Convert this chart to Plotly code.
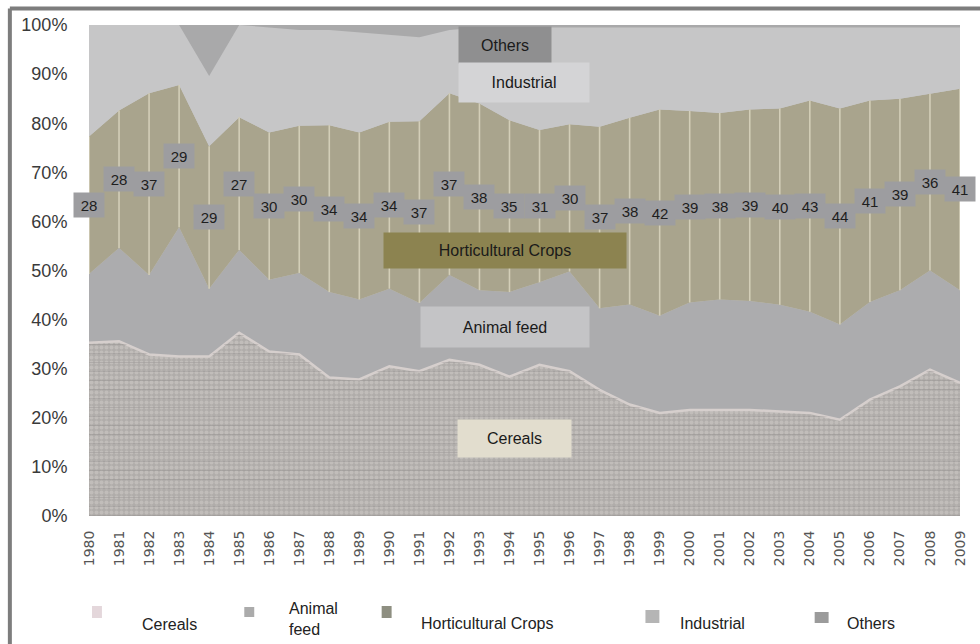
import numpy as np
import plotly.graph_objects as go

# Share of cropland use by category (% of total), 1980-2009
years = list(range(1980, 2010))
cereals = [35.3, 35.6, 32.9, 32.5, 32.5, 37.3, 33.5, 32.9, 28.2, 27.8,
           30.5, 29.5, 31.8, 30.8, 28.4, 30.8, 29.5, 25.7, 22.7, 21.0,
           21.6, 21.6, 21.6, 21.3, 21.0, 19.6, 23.7, 26.4, 29.8, 27.1]
animal_feed = [14.0, 19.0, 16.2, 26.3, 13.8, 16.9, 14.6, 16.6, 17.4, 16.3,
               15.8, 13.9, 17.3, 15.2, 17.2, 16.8, 20.3, 16.6, 20.4, 19.8,
               21.9, 22.5, 22.2, 21.7, 20.6, 19.4, 19.9, 19.6, 20.2, 18.9]
horticultural = [28, 28, 37, 29, 29, 27, 30, 30, 34, 34,
                 34, 37, 37, 38, 35, 31, 30, 37, 38, 42,
                 39, 38, 39, 40, 43, 44, 41, 39, 36, 41]
industrial = [22.7, 17.4, 13.9, 12.2, 14.3, 18.8, 21.4, 19.5, 19.4, 20.4,
              17.7, 17.1, 12.9, 15.5, 18.9, 20.9, 19.7, 20.2, 18.4, 16.7,
              17.0, 17.4, 16.7, 16.5, 14.9, 16.5, 14.9, 14.5, 13.5, 12.5]
others = [0, 0, 0, 0, 10.4, 0, 0.5, 1, 1, 1.5,
          2, 2.5, 1, 0.5, 0.5, 0.5, 0.5, 0.5, 0.5, 0.5,
          0.5, 0.5, 0.5, 0.5, 0.5, 0.5, 0.5, 0.5, 0.5, 0.5]

y_ticks = [0, 10, 20, 30, 40, 50, 60, 70, 80, 90, 100]
y_tick_text = [f"{v}%" for v in y_ticks]

series = [
    ("Cereals", cereals, "#b3afac"),
    ("Animal feed", animal_feed, "#acacae"),
    ("Horticultural Crops", horticultural, "#a9a48d"),
    ("Industrial", industrial, "#c6c6c7"),
    ("Others", others, "#a9a9aa"),
]

W, H = 980, 644
L, R, T, B = 89, 16, 25, 128
PW, PH = W - L - R, H - T - B


def paper(px, py):
    """Convert a pixel position on the page to paper coordinates."""
    return (px - L) / PW, (H - B - py) / PH


fig = go.Figure()

for name, vals, color in series:
    kw = dict(x=years, y=vals, name=name, mode="lines", stackgroup="one",
              line=dict(width=0, color=color), fillcolor=color,
              hovertemplate="%{x}: %{y:.1f}%<extra>" + name + "</extra>")
    if name == "Cereals":
        kw["line"] = dict(width=2.5, color="#d6cfcd")
        kw["fillpattern"] = dict(shape=".", bgcolor="#b0acaa", fgcolor="#d2cdca",
                                 size=5, solidity=0.5)
    fig.add_trace(go.Scatter(**kw))

# faint horizontal grain over the cereals layer
fig.add_trace(go.Scatter(x=years, y=cereals, mode="lines", fill="tozeroy", showlegend=False,
                         hoverinfo="skip", line=dict(width=0, color="rgba(0,0,0,0)"),
                         fillpattern=dict(shape="-", fgcolor="rgba(128,124,122,0.55)",
                                          bgcolor="rgba(0,0,0,0)", size=9, solidity=0.12)))

# light column separators inside the horticultural band
base = np.array(cereals) + np.array(animal_feed)
top = base + np.array(horticultural)
sx, sy = [], []
for yr, b0, b1 in zip(years, base, top):
    sx += [yr, yr, None]
    sy += [b0, b1, None]
fig.add_trace(go.Scatter(x=sx, y=sy, mode="lines", showlegend=False, hoverinfo="skip",
                         line=dict(color="#d3ceb8", width=1.6)))

annotations = []
# horticultural share labels at the middle of the band
for yr, b0, h in zip(years, base, horticultural):
    annotations.append(dict(x=yr, y=b0 + h / 2, xref="x", yref="y", text=str(h),
                            showarrow=False, bgcolor="#9d9da0", width=30, height=24,
                            borderpad=0, font=dict(size=15, color="#1e1e1e",
                                                   family="Liberation Sans")))

# category name boxes
boxes = [
    ("Others", 507, 45, 92, 36, "#8f8f90"),
    ("Industrial", 526, 82.5, 130, 39, "#d4d4d6"),
    ("Horticultural Crops", 507, 250.5, 242, 35, "#8c8350"),
    ("Animal feed", 507, 327, 168, 40, "#c4c4c6"),
    ("Cereals", 516.5, 438.5, 113, 37, "#e2ddce"),
]
for text, cx, cy, bw, bh, col in boxes:
    px_, py_ = paper(cx, cy)
    annotations.append(dict(x=px_, y=py_, xref="paper", yref="paper", text=text,
                            showarrow=False, bgcolor=col, width=bw, height=bh,
                            borderpad=0, xanchor="center", yanchor="middle",
                            font=dict(size=16, color="#1a1a1a", family="Liberation Sans")))

# legend row
legend_items = [
    ("Cereals", 92, 606, 10, 12, "#e4d7db", 140, 624),
    ("Animal<br>feed", 245, 607, 10, 10, "#ababab", 288, 619),
    ("Horticultural Crops", 383, 606, 10, 12, "#8e8f81", 421, 623),
    ("Industrial", 648, 610, 14, 13, "#b5b5b5", 681, 623),
    ("Others", 818, 612, 14, 11, "#9b9b9b", 848, 623),
]
shapes = []
for text, mx, my, mw, mh, col, tx, ty in legend_items:
    x0, y1 = paper(mx, my)
    x1, y0 = paper(mx + mw, my + mh)
    shapes.append(dict(type="rect", xref="paper", yref="paper", x0=x0, x1=x1,
                       y0=y0, y1=y1, fillcolor=col, line=dict(width=0)))
    ax, ay = paper(tx, ty)
    annotations.append(dict(x=ax, y=ay, xref="paper", yref="paper", text=text,
                            showarrow=False, xanchor="left", yanchor="middle", align="left",
                            font=dict(size=16, color="#222222", family="Liberation Sans")))

# outer frame (top and left edges)
fx0, fy0 = paper(9.5, 8.5)
fx1, _ = paper(W + 5, 8.5)
_, fyb = paper(9.5, H + 5)
shapes.append(dict(type="line", xref="paper", yref="paper", x0=fx0, x1=fx1, y0=fy0, y1=fy0,
                   line=dict(color="#7d7d7d", width=4)))
shapes.append(dict(type="line", xref="paper", yref="paper", x0=fx0, x1=fx0, y0=fy0, y1=fyb,
                   line=dict(color="#7d7d7d", width=4)))

fig.update_layout(
    width=W, height=H,
    margin=dict(l=L, r=R, t=T, b=B),
    paper_bgcolor="#ffffff",
    plot_bgcolor="#c6c6c7",
    showlegend=False,
    annotations=annotations,
    shapes=shapes,
    font=dict(family="Liberation Sans", color="#333333"),
    xaxis=dict(range=[1980, 2009], tickvals=years, ticktext=[str(y) for y in years],
               tickangle=-90, showgrid=False, zeroline=False, showline=False,
               ticks="outside", ticklen=8, tickcolor="rgba(0,0,0,0)",
               tickfont=dict(size=14, color="#555555", family="DejaVu Sans")),
    yaxis=dict(range=[0, 100], tickvals=y_ticks, ticktext=y_tick_text,
               showgrid=False, zeroline=False, showline=False,
               ticks="outside", ticklen=17, tickcolor="rgba(0,0,0,0)",
               tickfont=dict(size=18, color="#3a3a3a", family="Liberation Sans")),
)

fig.write_html("out.html")
